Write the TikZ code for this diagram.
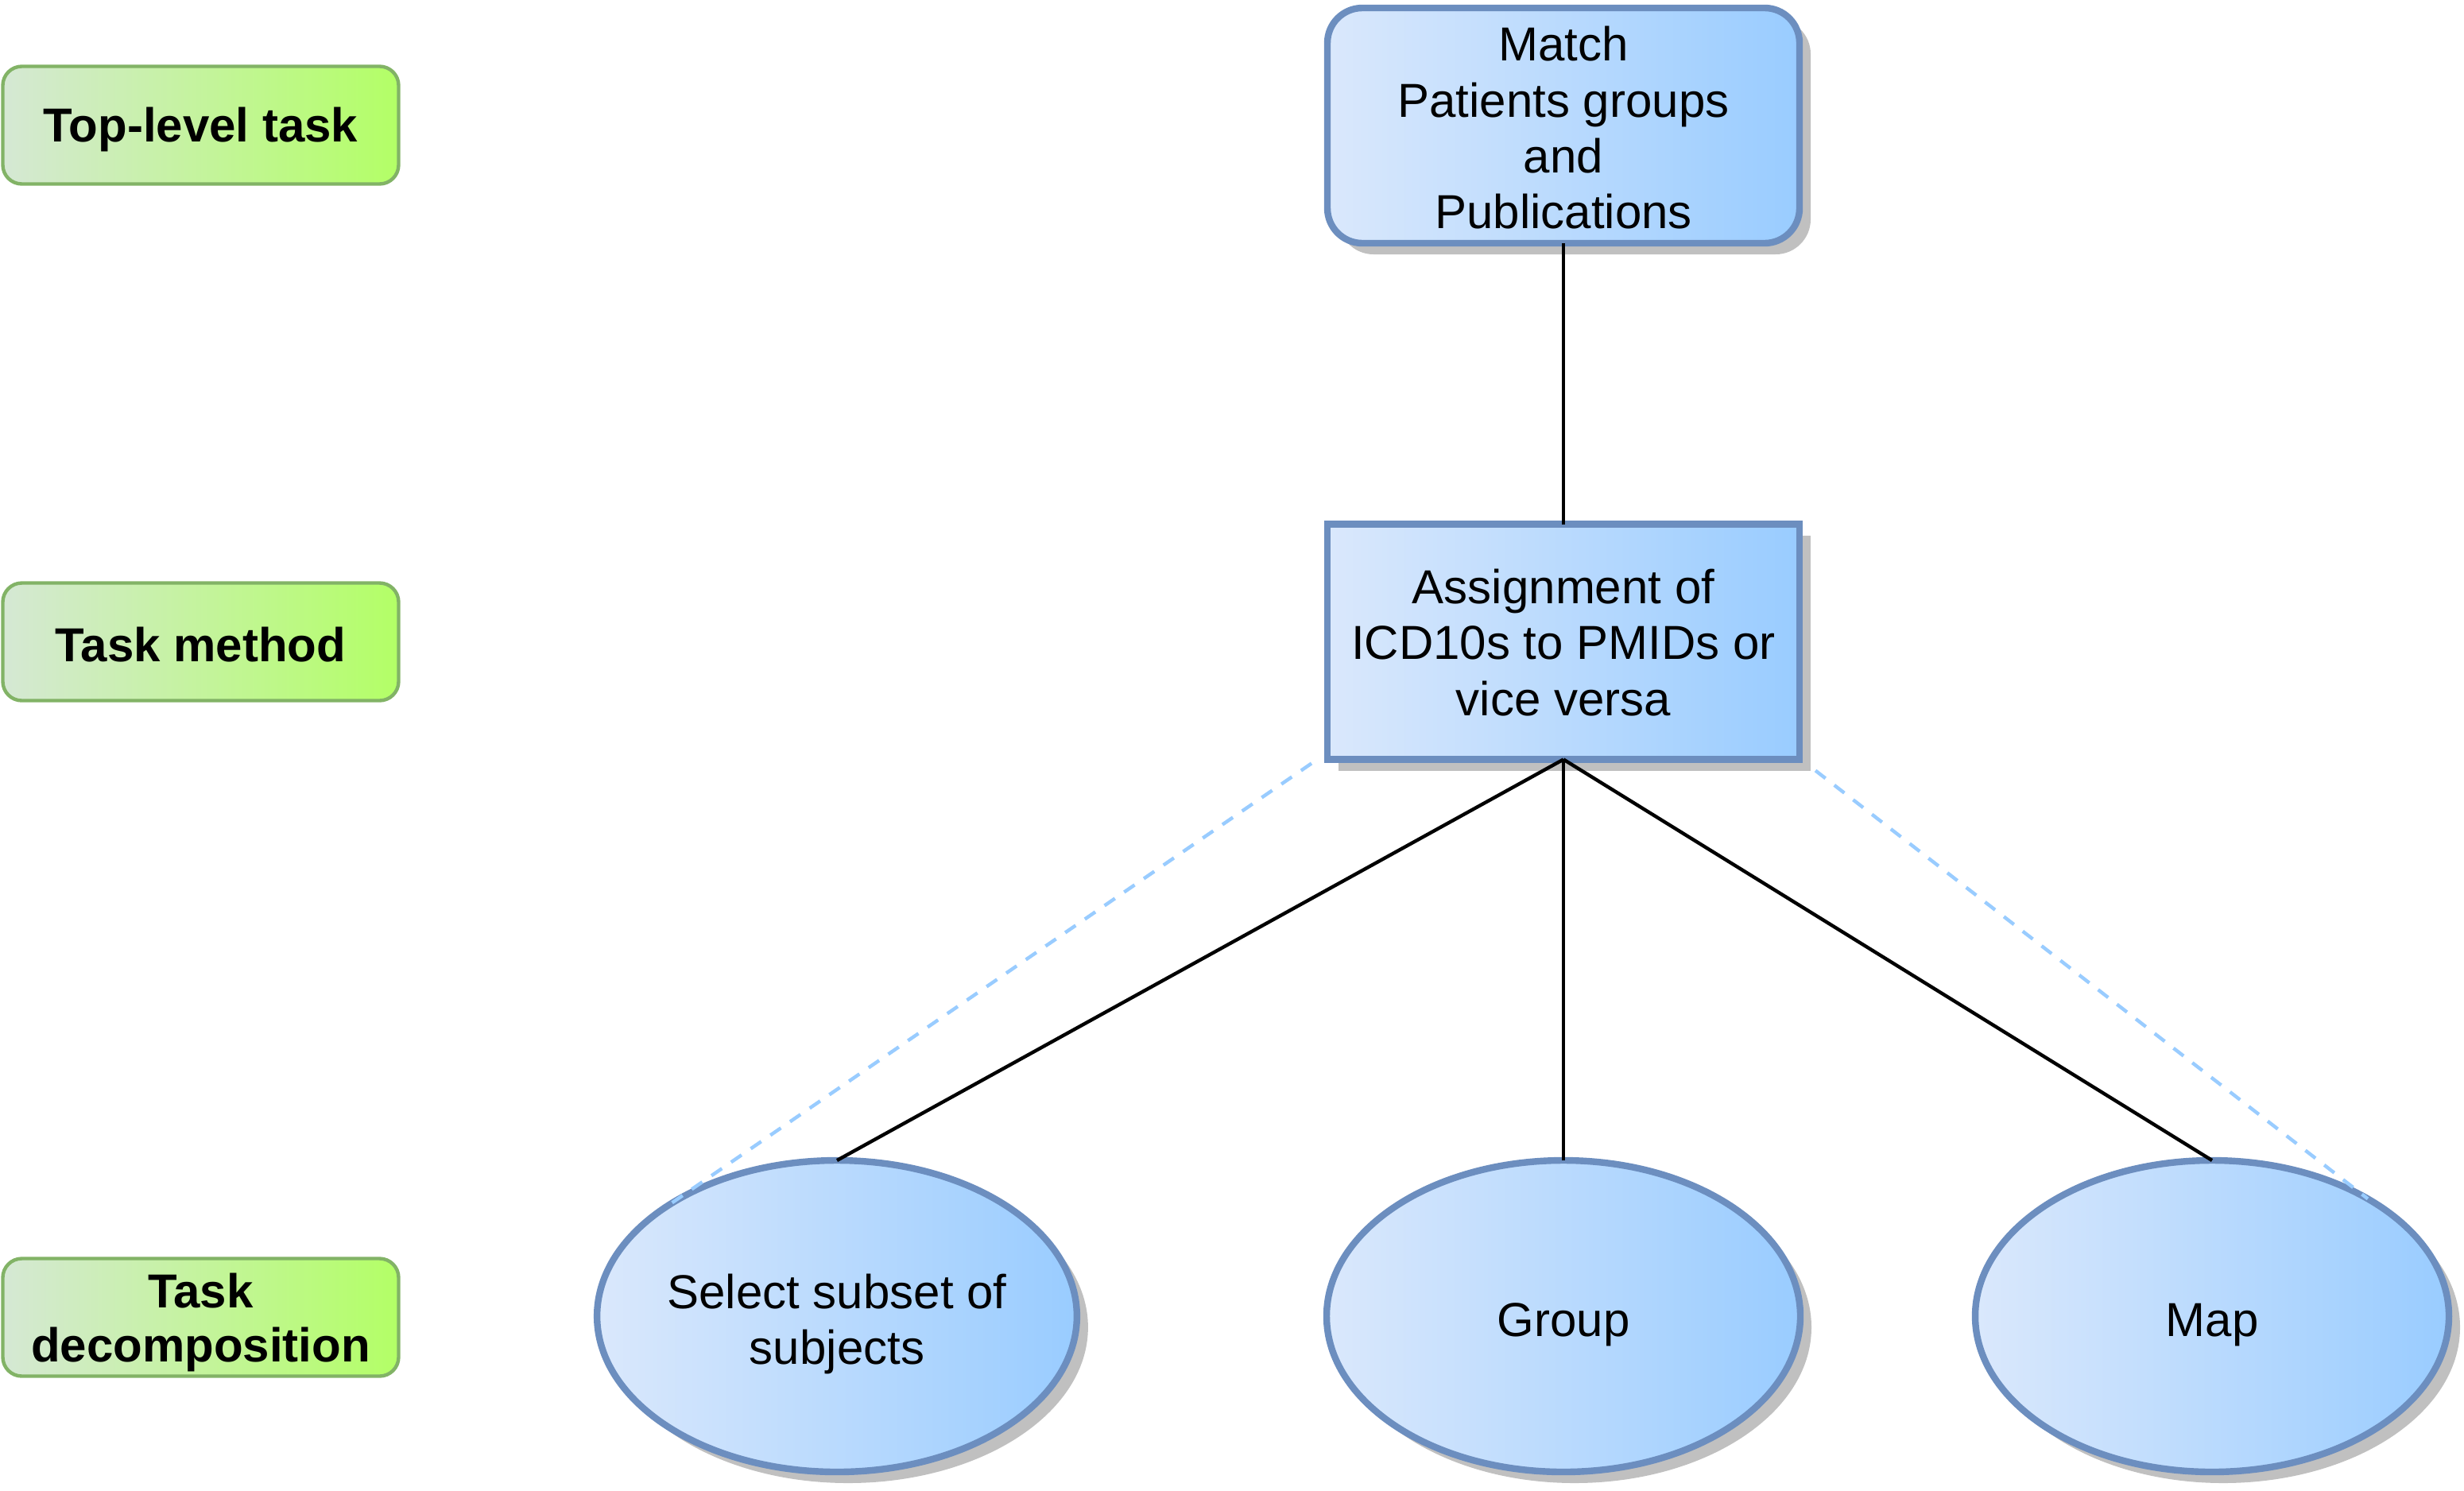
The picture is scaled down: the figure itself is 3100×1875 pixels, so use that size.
\documentclass[tikz,border=0pt]{standalone}
\usepackage{fontspec}
\setmainfont{Liberation Sans}
\usetikzlibrary{shapes.geometric,shadows,calc}
\definecolor{bluel}{RGB}{218,232,252}
\definecolor{bluer}{RGB}{153,204,255}
\definecolor{blueb}{RGB}{108,142,191}
\definecolor{greenl}{RGB}{213,232,212}
\definecolor{greenr}{RGB}{179,255,102}
\definecolor{greenb}{RGB}{130,179,102}
\definecolor{shadowc}{RGB}{192,192,192}
\newcommand{\dropby}[1]{\rule{0pt}{\dimexpr 10.7pt+2\dimexpr #1\relax\relax}}
\tikzset{
  bluefill/.style={left color=bluel, right color=bluer, draw=blueb, line width=2.1pt,
    drop shadow={shadow xshift=3.5pt, shadow yshift=-3.5pt, fill=shadowc, opacity=1}},
  topbox/.style={bluefill, rectangle, rounded corners=11pt, minimum width=148.5pt, minimum height=74pt,
    align=center, font=\fontsize{15}{17.6}\selectfont, inner sep=0pt, outer sep=0pt},
  methodbox/.style={bluefill, rectangle, minimum width=148.5pt, minimum height=74pt,
    align=center, font=\fontsize{15}{17.6}\selectfont, inner sep=0pt, outer sep=0pt},
  taskell/.style={bluefill, ellipse, minimum width=149pt, minimum height=98pt,
    align=center, font=\fontsize{15}{17.6}\selectfont, inner sep=0pt, outer sep=0pt},
  labelbox/.style={rectangle, rounded corners=6pt, left color=greenl, right color=greenr,
    draw=greenb, line width=1.1pt, minimum width=124.5pt, minimum height=37pt,
    align=center, font=\bfseries\fontsize{15}{17}\selectfont, inner sep=0pt, outer sep=0pt},
  link/.style={draw=black, line width=1.1pt},
  hint/.style={draw=bluer, line width=1.1pt, dash pattern=on 4pt off 3.5pt},
}
\begin{document}
\begin{tikzpicture}[x=0.25pt,y=-0.25pt]
\useasboundingbox (0,0) rectangle (3100,1875);
% level labels
\node[labelbox] (l1) at (252.5,157.5) {\dropby{1.5pt}Top-level task};
\node[labelbox] (l2) at (252.5,807.5) {\dropby{1pt}Task method};
\node[labelbox] (l3) at (252.5,1657.5) {\dropby{1.7pt}Task\\decomposition};
% main nodes
\node[topbox] (top) at (1967,158) {\dropby{0.8pt}Match\\Patients groups\\and\\Publications};
\node[methodbox] (mid) at (1967,807.5) {\dropby{0.3pt}Assignment of\\ICD10s to PMIDs or\\vice versa};
\node[taskell] (sel) at (1053,1656) {\dropby{2.5pt}Select subset of\\subjects};
\node[taskell] (grp) at (1967,1656) {\dropby{2.5pt}Group};
\node[taskell] (map) at (2783,1656) {\dropby{2.5pt}Map};
% connectors
\draw[link] (top.south) -- (mid.north);
\draw[link] (mid.south) -- (sel.north);
\draw[link] (mid.south) -- (grp.north);
\draw[link] (mid.south) -- (map.north);
% dashed hints
\coordinate (hl) at ($(mid.south west)+(-20,5)$);
\coordinate (hr) at ($(mid.south east)+(20,14)$);
\draw[hint] (hl) -- (sel.147);
\draw[hint] (hr) -- (map.37);
\end{tikzpicture}
\end{document}
